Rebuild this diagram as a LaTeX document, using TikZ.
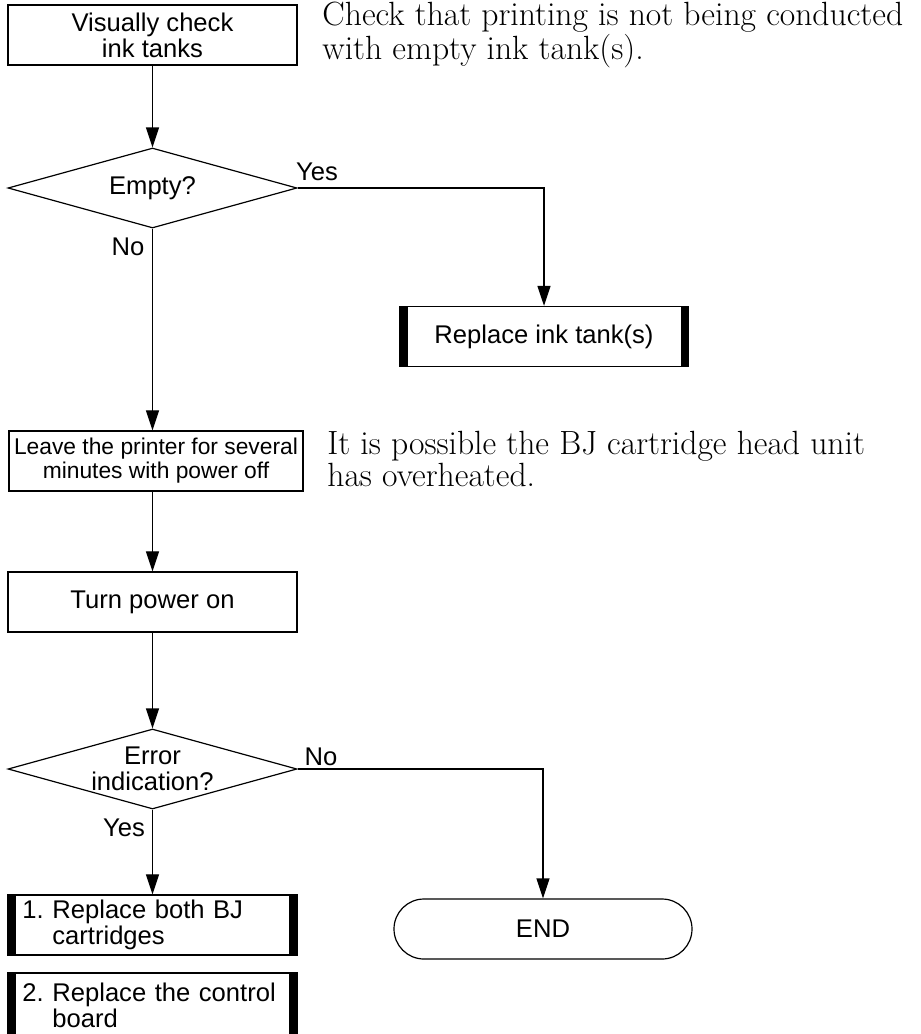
\documentclass[tikz,border=0pt]{standalone}
\usepackage{fontspec}
\newfontfamily\flowsans{Liberation Sans}
\usetikzlibrary{shapes.geometric,arrows.meta}

\begin{document}
\begin{tikzpicture}[x=0.5pt,y=-0.5pt,
  every node/.style={font=\flowsans\fontsize{12.8}{13}\selectfont,align=center},
  procbox/.style={draw,line width=0.7pt,minimum width=144.5pt,minimum height=30pt,inner sep=0pt},
  barbox/.style={procbox,path picture={
      \fill ([xshift=-1pt]path picture bounding box.north west) rectangle ([xshift=4pt]path picture bounding box.south west);
      \fill ([xshift=1pt]path picture bounding box.north east) rectangle ([xshift=-4pt]path picture bounding box.south east);}},
  decision/.style={draw,diamond,line width=0.6pt,minimum width=144.5pt,minimum height=40pt,inner sep=0pt},
  endbox/.style={draw,line width=0.6pt,rounded corners=15pt,minimum width=149pt,minimum height=30pt},
  answer/.style={inner sep=0pt},
  note/.style={font=\rmfamily\fontsize{16.8}{13.6}\selectfont,align=left,anchor=north west,inner sep=0pt},
  flow/.style={line width=0.6pt,-{Triangle[length=10pt,width=6.5pt]}}]
  \useasboundingbox (0,0) rectangle (921,1034);

  % steps
  \node[procbox] (check) at (152.5,35) {Visually check\\ink tanks};
  \node[decision] (empty) at (152.5,188) {};
  \node (emptytxt) at (empty) {Empty?};
  \node[barbox] (tank) at (544,336.5) {Replace ink tank(s)};
  \node[procbox,minimum width=147pt,font=\flowsans\fontsize{11.4}{12}\selectfont] (leave) at (156,461) {Leave the printer for several\\minutes with power off};
  \node[procbox] (power) at (152.5,602) {Turn power on};
  \node[decision] (error) at (152.5,769) {};
  \node (errortxt) at (error) {Error\\indication?};
  \node[barbox,text width=130pt,align=left] (cart) at (152.5,925) {1.~Replace both BJ\\\phantom{1.~}cartridges};
  \node[barbox,text width=130pt,align=left,minimum height=32pt] (board) at (152.5,1005) {2.~Replace the control\\\phantom{2.~}board};
  \node[endbox] (end) at (543,929) {END};

  % remarks
  \node[note] (note1) at (322,2) {Check that printing is not being conducted\\with empty ink tank(s).};
  \node[note] (note2) at (327,431) {It is possible the BJ cartridge head unit\\has overheated.};

  % answers
  \node[answer] (yes1) at (317,172) {Yes};
  \node[answer] (no1) at (128,247) {No};
  \node[answer] (no2) at (321,757) {No};
  \node[answer] (yes2) at (124,828) {Yes};

  \draw[flow] (check) -- (empty);
  \draw[flow] (empty.east) -| (tank.north);
  \draw[flow] (empty.south) -- (empty.south |- leave.north);
  \draw[flow] (leave.south -| power.north) -- (power.north);
  \draw[flow] (power) -- (error);
  \draw[flow] (error.east) -| (end.north);
  \draw[flow] (error) -- (cart);
\end{tikzpicture}
\end{document}
